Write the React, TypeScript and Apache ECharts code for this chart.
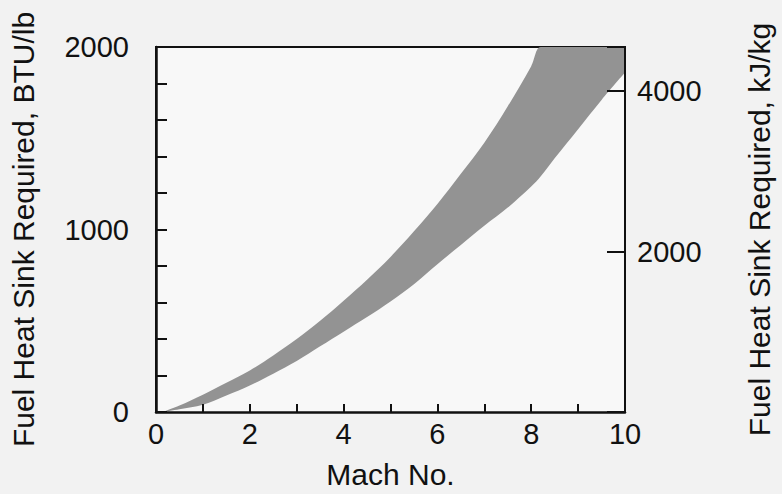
import React, { useEffect, useRef } from "react";
import * as echarts from "echarts";

// Mach numbers at which both band edges were read
const machNumbers = [0.15, 0.5, 1, 1.5, 2, 2.5, 3, 3.5, 4, 4.5, 5, 5.5, 6, 6.5, 7, 7.5, 8, 8.2, 8.5, 9, 9.5, 10];
// Upper edge of the band, BTU/lb (runs off the top of the frame beyond Mach ~8.2)
const upperBtu = [0, 35, 95, 160, 228, 310, 400, 500, 610, 725, 850, 990, 1140, 1305, 1475, 1675, 1895, 2000, 2000, 2000, 2000, 2000];
// Lower edge of the band, BTU/lb
const lowerBtu = [0, 15, 40, 90, 145, 210, 280, 360, 440, 520, 605, 700, 810, 915, 1020, 1120, 1235, 1290, 1390, 1550, 1710, 1860];

const xTickLabels = [0, 2, 4, 6, 8, 10];
const leftTickLabels = [0, 1000, 2000];
const rightTickLabels = [2000, 4000];

const FONT = "'Liberation Sans', Arial, Helvetica, sans-serif";
const INK = "#111111";
const BAND = "#939393";
const PLOT_BG = "#f8f8f8";

export default function App() {
  const ref = useRef<HTMLDivElement>(null);

  useEffect(() => {
    if (!ref.current) return;
    const chart = echarts.init(ref.current, undefined, { renderer: "svg" });
    const upperData = machNumbers.map((m, i) => [m, upperBtu[i]]);
    const lowerData = machNumbers.map((m, i) => [m, lowerBtu[i]]);
    chart.setOption({
      animation: false,
      backgroundColor: "#f2f2f2",
      textStyle: { fontFamily: FONT, color: INK },
      grid: {
        left: 155,
        right: 157,
        top: 47,
        bottom: 79,
        show: true,
        backgroundColor: PLOT_BG,
        borderColor: INK,
        borderWidth: 2,
      },
      xAxis: {
        type: "value",
        min: 0,
        max: 10,
        interval: 2,
        name: "Mach No.",
        nameLocation: "middle",
        nameGap: 47,
        nameTextStyle: { fontSize: 30, color: INK, fontFamily: FONT },
        axisLine: { show: true, lineStyle: { color: INK, width: 2.5 } },
        axisTick: { show: true, inside: true, length: 8, lineStyle: { color: INK, width: 2 } },
        minorTick: { show: true, splitNumber: 2, length: 8, lineStyle: { color: INK, width: 2 } },
        splitLine: { show: false },
        axisLabel: {
          fontSize: 29,
          color: INK,
          fontFamily: FONT,
          margin: 7,
          formatter: (v: number) => (xTickLabels.includes(v) ? String(v) : ""),
        },
        z: 10,
      },
      yAxis: [
        {
          type: "value",
          position: "left",
          min: 0,
          max: 2000,
          interval: 1000,
          name: "Fuel Heat Sink Required, BTU/lb",
          nameLocation: "middle",
          nameRotate: 90,
          nameGap: 118,
          nameTextStyle: { fontSize: 30, color: INK, fontFamily: FONT },
          axisLine: { show: true, lineStyle: { color: INK, width: 2.5 } },
          axisTick: { show: true, inside: true, length: 11, lineStyle: { color: INK, width: 2 } },
          minorTick: { show: true, splitNumber: 5, length: 11, lineStyle: { color: INK, width: 2 } },
          splitLine: { show: false },
          axisLabel: {
            fontSize: 29,
            color: INK,
            fontFamily: FONT,
            margin: 27,
            formatter: (v: number) => (leftTickLabels.includes(v) ? String(v) : ""),
          },
          z: 10,
        },
        {
          type: "value",
          position: "right",
          min: 0,
          max: 4550,
          interval: 2000,
          name: "Fuel Heat Sink Required, kJ/kg",
          nameLocation: "middle",
          nameRotate: 90,
          nameGap: 119,
          nameTextStyle: { fontSize: 30, color: INK, fontFamily: FONT },
          axisLine: { show: true, lineStyle: { color: INK, width: 2 } },
          axisTick: { show: true, inside: true, length: 18, lineStyle: { color: INK, width: 2 } },
          splitLine: { show: false },
          axisLabel: {
            fontSize: 29,
            color: INK,
            fontFamily: FONT,
            margin: 12,
            formatter: (v: number) => (rightTickLabels.includes(v) ? String(v) : ""),
          },
          z: 10,
        },
      ],
      series: [
        {
          name: "upper",
          type: "line",
          xAxisIndex: 0,
          yAxisIndex: 0,
          smooth: 0.35,
          symbol: "none",
          silent: true,
          clip: true,
          lineStyle: { width: 0, opacity: 0 },
          areaStyle: { color: BAND, opacity: 1 },
          data: upperData,
          z: 1,
        },
        {
          name: "lower",
          type: "line",
          xAxisIndex: 0,
          yAxisIndex: 0,
          smooth: 0.35,
          symbol: "none",
          silent: true,
          clip: true,
          lineStyle: { width: 0, opacity: 0 },
          areaStyle: { color: PLOT_BG, opacity: 1 },
          data: lowerData,
          z: 2,
        },
      ],
    });
    return () => chart.dispose();
  }, []);

  return <div ref={ref} style={{ width: 782, height: 494, position: "absolute", left: 0, top: 0 }} />;
}
